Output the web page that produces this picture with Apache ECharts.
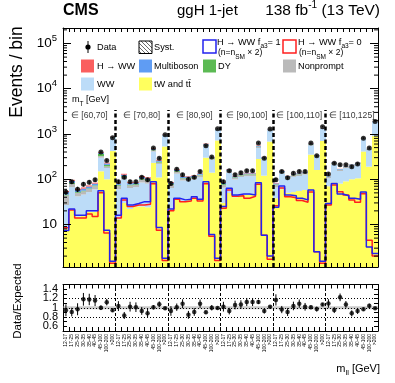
<!DOCTYPE html>
<html>
<head>
<meta charset="utf-8">
<script src="https://cdn.jsdelivr.net/npm/echarts@6.0.0/dist/echarts.min.js"></script>
<style>
html, body { margin: 0; padding: 0; background: #fff; }
#chart { width: 395px; height: 383px; }
</style>
</head>
<body>
<div id="chart"></div>
<script>
// outer mT slices and inner mll bins
const mtBins = ['[60,70]', '[70,80]', '[80,90]', '[90,100]', '[100,110]', '[110,125]']
const mllBins = ['12-17', '17-25', '25-30', '30-35', '35-40', '40-45', '45-100', '100-200', '>200']
const categories = mtBins.flatMap(() => mllBins)

// stacked backgrounds, bottom to top (events / bin)
const topTW = [
    8, 21, 15, 16, 19, 19, 150, 100, 420,
    13, 30, 22, 25, 25, 24, 230, 110, 530,
    22, 38, 33, 35, 38, 36, 300, 140, 720,
    30, 50, 40, 45, 45, 45, 280, 120, 680,
    38, 60, 50, 52, 55, 58, 350, 160, 700,
    70, 85, 80, 90, 100, 105, 410, 190, 900
]
const ww = [
    19, 46, 27, 30, 33, 41, 150, 77, 390,
    47, 70, 42, 42, 60, 56, 180, 108, 380,
    42, 95, 61, 61, 61, 74, 240, 130, 530,
    35, 91, 59, 67, 72, 72, 210, 155, 530,
    28, 75, 52, 61, 63, 69, 212, 155, 600,
    36, 127, 72, 87, 97, 110, 375, 257, 960
]
const nonprompt = [
    17, 12, 8, 8, 9, 10, 25, 15, 20,
    12, 12, 9, 8, 13, 12, 25, 15, 20,
    12, 14, 10, 10, 10, 12, 25, 15, 20,
    10, 12, 9, 9, 10, 10, 25, 15, 20,
    9, 10, 9, 9, 10, 10, 25, 10, 20,
    8, 15, 10, 10, 11, 11, 30, 15, 30
]
const dy = [
    2, 4, 2, 2, 2, 3, 40, 15, 15,
    3, 5, 3, 3, 5, 4, 15, 10, 10,
    3, 5, 3, 3, 3, 4, 12, 8, 10,
    3, 4, 3, 3, 3, 3, 12, 6, 8,
    2, 2, 2, 2, 2, 2, 10, 4, 8,
    1, 3, 2, 2, 2, 2, 5, 2, 8
]
const multiboson = [
    6, 9, 6, 6, 6, 7, 22, 16, 20,
    6, 9, 6, 6, 9, 8, 20, 15, 18,
    5, 9, 6, 6, 6, 7, 20, 11, 20,
    5, 7, 5, 5, 5, 5, 20, 10, 18,
    4, 5, 4.5, 4.5, 4.5, 4.5, 17, 8, 18,
    3, 5, 4.5, 4, 4.5, 4.5, 10, 5, 16
]
const hww = [
    3, 5, 4, 4, 4, 4, 13, 9, 10,
    4, 6, 4, 3, 6, 6, 15, 12, 12,
    3, 4, 3, 3, 3, 3, 13, 6, 10,
    3, 3, 2, 2, 3, 3, 13, 6, 9,
    2, 2, 1.5, 1.5, 1.5, 1.5, 10, 3, 9,
    1, 2, 1.5, 1, 1.5, 1.5, 5, 1, 6
]
// observed data and its uncertainty
const observed = [
    52, 88, 60, 78, 86, 97, 400, 260, 830,
    88, 110, 88, 88, 110, 97, 490, 290, 960,
    81, 167, 126, 100, 110, 148, 550, 310, 1300,
    88, 155, 125, 140, 155, 155, 630, 290, 1290,
    97, 148, 108, 135, 148, 148, 630, 330, 1450,
    130, 225, 208, 208, 190, 218, 810, 490, 1900
]
const observedErr = [
    7, 9, 8, 9, 9, 10, 20, 16, 29,
    9, 10, 9, 9, 10, 10, 22, 17, 31,
    9, 13, 11, 10, 10, 12, 23, 18, 36,
    9, 12, 11, 12, 12, 12, 25, 17, 36,
    10, 12, 10, 12, 12, 12, 25, 18, 38,
    11, 15, 14, 14, 14, 15, 28, 22, 44
]
// H -> WW signal hypotheses drawn as lines (n = n_SM x 2)
const fa3One = [
    7.4, 22, 16, 16, 20, 20, 56, 7.5, 1.55,
    16, 38, 27, 29, 32, 32, 88, 8.6, 1.8,
    22, 38, 35, 36, 41, 36, 88, 6, 1.8,
    25, 63, 45, 47, 47, 45, 84, 5.8, 2.0,
    24, 71, 45, 43, 38, 35, 58, 2.5, 1.55,
    29, 81, 47, 43, 38, 36, 52, 3.2, 2.3
]
const fa3Zero = [
    8.5, 21, 14, 14, 17, 15, 50, 6.5, 1.4,
    14, 35, 25, 27, 27, 28, 80, 7.5, 1.6,
    20, 36, 32, 33, 38, 33, 80, 5.5, 1.6,
    23, 58, 42, 43, 38, 42, 78, 5.8, 1.7,
    26, 64, 41, 39, 34, 31, 52, 2.5, 1.4,
    27, 75, 53, 45, 35, 31, 48, 4.5, 2.0
]

const FONT = '"Liberation Sans", Arial, Helvetica, sans-serif'
const yMin = 1.15
const yMax = 2.2e5
const nBins = categories.length
const perBlock = mllBins.length

// background order: first entry sits at the bottom of the stack
const backgrounds = [
    { name: 'tW and tt̄', values: topTW, color: '#ffff5e' },
    { name: 'WW', values: ww, color: '#bcdcf8' },
    { name: 'Nonprompt', values: nonprompt, color: '#bababa' },
    { name: 'DY', values: dy, color: '#5cba54' },
    { name: 'Multiboson', values: multiboson, color: '#5f9cf3' },
    { name: 'H → WW', values: hww, color: '#fa5f5f' }
]
// cumulative stack tops per component
const cumulative = []
backgrounds.forEach((b, i) => {
    cumulative.push(b.values.map((v, k) => v + (i > 0 ? cumulative[i - 1][k] : 0)))
})
const expected = cumulative[cumulative.length - 1]

const chart = echarts.init(document.getElementById('chart'))

const stepData = (vals) => {
    const pts = []
    vals.forEach((v, k) => { pts.push([k, v], [k + 1, v]) })
    return pts
}

const errorBar = (width) => (params, api) => {
    const p1 = api.coord([api.value(0), api.value(1)])
    const p2 = api.coord([api.value(0), api.value(2)])
    return {
        type: 'line',
        shape: { x1: p1[0], y1: p1[1], x2: p2[0], y2: p2[1] },
        style: { stroke: '#000', lineWidth: width }
    }
}

// minor ticks of the log axis at 2..9 x 10^n
const minorTicks = []
for (let e = 0; e <= 5; e++) {
    for (let m = 2; m <= 9; m++) {
        const v = m * Math.pow(10, e)
        if (v > yMin && v < yMax) minorTicks.push([0, v])
    }
}

const separators = []
for (let i = 1; i < mtBins.length; i++) separators.push(i * perBlock)

const series = []
// stacked histogram: one rect per component per bin, edges snapped to whole pixels
series.push({
    type: 'custom', xAxisIndex: 2, yAxisIndex: 0, silent: true, z: 2,
    data: categories.map((c, k) => [k, ...cumulative.map((cum) => cum[k])]),
    renderItem: (params, api) => {
        const k = api.value(0)
        const x0 = Math.round(api.coord([k, yMin])[0])
        const x1 = Math.round(api.coord([k + 1, yMin])[0])
        let base = api.coord([k, yMin])[1]
        const children = []
        backgrounds.forEach((b, i) => {
            const top = api.coord([k, api.value(i + 1)])[1]
            children.push({
                type: 'rect',
                shape: { x: x0, y: top, width: x1 - x0, height: base - top },
                style: { fill: b.color }
            })
            base = top
        })
        return { type: 'group', children }
    }
})
// signal hypothesis lines
series.push({
    type: 'line', xAxisIndex: 2, yAxisIndex: 0, data: stepData(fa3Zero),
    symbol: 'none', lineStyle: { color: '#ff1f1f', width: 1.5 }, silent: true, z: 3
})
series.push({
    type: 'line', xAxisIndex: 2, yAxisIndex: 0, data: stepData(fa3One),
    symbol: 'none', lineStyle: { color: '#2323f0', width: 1.5 }, silent: true, z: 3
})
// log minor ticks on both sides
series.push({
    type: 'custom', xAxisIndex: 2, yAxisIndex: 0, data: minorTicks, silent: true, z: 6,
    renderItem: (params, api) => {
        const pl = api.coord([0, api.value(1)])
        const pr = api.coord([nBins, api.value(1)])
        return {
            type: 'group',
            children: [
                { type: 'line', shape: { x1: pl[0], y1: pl[1], x2: pl[0] + 4, y2: pl[1] }, style: { stroke: '#000', lineWidth: 1 } },
                { type: 'line', shape: { x1: pr[0] - 4, y1: pr[1], x2: pr[0], y2: pr[1] }, style: { stroke: '#000', lineWidth: 1 } }
            ]
        }
    }
})
// mT slice separators and slice labels
series.push({
    type: 'scatter', xAxisIndex: 2, yAxisIndex: 0, z: 4, silent: true,
    symbolSize: 1,
    itemStyle: { color: 'rgba(0,0,0,0)' },
    data: mtBins.map((b, i) => [i * perBlock + perBlock / 2, 2570]),
    label: {
        show: true, position: 'inside', color: '#000', fontSize: 8.6, fontFamily: FONT,
        formatter: (p) => '∈ ' + mtBins[p.dataIndex]
    },
    markLine: {
        silent: true,
        symbol: ['none', 'none'],
        label: { show: false },
        lineStyle: { color: '#000', width: 2.5, type: [4, 2.5] },
        data: separators.map((x) => [{ coord: [x, yMin] }, { coord: [x, 3400] }])
    }
})
// data points
series.push({
    type: 'custom', xAxisIndex: 2, yAxisIndex: 0, z: 5, silent: true,
    data: observed.map((v, k) => [k + 0.5, v - observedErr[k], v + observedErr[k]]),
    renderItem: errorBar(1)
})
series.push({
    type: 'scatter', xAxisIndex: 2, yAxisIndex: 0, z: 5, silent: true,
    symbolSize: 5, itemStyle: { color: '#000' },
    data: observed.map((v, k) => [k + 0.5, v])
})
// ratio panel
series.push({
    type: 'custom', xAxisIndex: 5, yAxisIndex: 2, z: 5, silent: true,
    data: observed.map((v, k) => [k + 0.5, (v - observedErr[k]) / expected[k], (v + observedErr[k]) / expected[k]]),
    renderItem: errorBar(1)
})
series.push({
    type: 'scatter', xAxisIndex: 5, yAxisIndex: 2, z: 5, silent: true,
    symbolSize: 4.5, itemStyle: { color: '#000' },
    data: observed.map((v, k) => [k + 0.5, v / expected[k]]),
    markArea: {
        silent: true,
        itemStyle: { color: 'rgba(160,160,160,0.55)' },
        data: [[{ yAxis: 0.97 }, { yAxis: 1.03 }]]
    },
    markLine: {
        silent: true,
        symbol: ['none', 'none'],
        label: { show: false },
        data: [
            ...separators.map((x) => ({ xAxis: x, lineStyle: { color: '#000', width: 1, type: [3, 2] } })),
            ...[0.8, 1, 1.2].map((y) => ({ yAxis: y, lineStyle: { color: '#000', width: 1, type: [1, 2] } }))
        ]
    }
})

const axisBlack = { show: true, lineStyle: { color: '#000', width: 1 } }
const catAxis = (grid, position, labels) => ({
    type: 'category',
    gridIndex: grid,
    position,
    data: categories,
    boundaryGap: true,
    axisLine: axisBlack,
    axisTick: { show: true, inside: true, length: 4, interval: 0, lineStyle: { color: '#000' } },
    axisLabel: labels || { show: false },
    splitLine: { show: false },
    z: 10
})

// hatched fill for the Syst. legend box
const hatch = document.createElement('canvas')
hatch.width = 4
hatch.height = 4
const hctx = hatch.getContext('2d')
hctx.strokeStyle = '#444'
hctx.lineWidth = 0.8
hctx.beginPath()
hctx.moveTo(0, 0)
hctx.lineTo(4, 4)
hctx.stroke()

const txt = (x, y, text, style) => ({
    type: 'text', x, y, silent: true,
    style: Object.assign({ text, fill: '#000', fontFamily: FONT, fontSize: 9.2, verticalAlign: 'middle' }, style)
})
const box = (x, y, fill, stroke) => ({
    type: 'rect', silent: true,
    shape: { x, y, width: 13, height: 13 },
    style: stroke ? { fill: fill || 'none', stroke, lineWidth: 1.5 } : { fill }
})
const subRich = { sub: { fontSize: 6.5, lineHeight: 8, verticalAlign: 'bottom' } }

const graphic = [
    txt(63, 11, 'CMS', { fontSize: 16, fontWeight: 'bold' }),
    txt(177, 11, 'ggH 1-jet', { fontSize: 15 }),
    txt(380, 11, '138 fb{sup|-1} (13 TeV)', {
        fontSize: 15.5, align: 'right', lineHeight: 22,
        rich: { sup: { fontSize: 10, lineHeight: 12, verticalAlign: 'top' } }
    }),
    { type: 'text', x: 17, y: 72, rotation: Math.PI / 2, silent: true,
        style: { text: 'Events / bin', fill: '#000', fontFamily: FONT, fontSize: 17.5, align: 'center', verticalAlign: 'middle' } },
    { type: 'text', x: 17.5, y: 301, rotation: Math.PI / 2, silent: true,
        style: { text: 'Data/Expected', fill: '#000', fontFamily: FONT, fontSize: 11.5, align: 'center', verticalAlign: 'middle' } },
    txt(380, 369, 'm{sub|ll} [GeV]', { fontSize: 11, align: 'right', lineHeight: 16, rich: { sub: { fontSize: 7.5, lineHeight: 9, verticalAlign: 'bottom' } } }),
    txt(72, 100, 'm{sub|T} [GeV]', { fontSize: 9, lineHeight: 15, rich: subRich }),
    // legend row 1
    { type: 'line', silent: true, shape: { x1: 88, y1: 41, x2: 88, y2: 53 }, style: { stroke: '#000', lineWidth: 1 } },
    { type: 'circle', silent: true, shape: { cx: 88, cy: 47, r: 2.6 }, style: { fill: '#000' } },
    txt(97, 47, 'Data'),
    { type: 'rect', silent: true, shape: { x: 139, y: 41, width: 13, height: 12.5 },
        style: { fill: { image: hatch, repeat: 'repeat' }, stroke: '#000', lineWidth: 1 } },
    txt(154, 47, 'Syst.'),
    box(203, 40, null, '#2323f0'),
    txt(217, 42.5, 'H → WW f{sub|a3}= 1', { lineHeight: 15, rich: subRich }),
    txt(218, 53, '(n=n{sub|SM} × 2)', { fontSize: 8.5, lineHeight: 15, rich: subRich }),
    box(283, 40, null, '#ff1f1f'),
    txt(298, 42.5, 'H → WW f{sub|a3}= 0', { lineHeight: 15, rich: subRich }),
    txt(299, 53, '(n=n{sub|SM} × 2)', { fontSize: 8.5, lineHeight: 15, rich: subRich }),
    // legend row 2
    box(81, 59.5, '#fa5f5f'),
    txt(97, 66, 'H → WW'),
    box(139, 59.5, '#5f9cf3'),
    txt(154, 66, 'Multiboson'),
    box(203, 59.5, '#5cba54'),
    txt(218, 66, 'DY'),
    box(283, 59.5, '#bababa'),
    txt(298, 66, 'Nonprompt'),
    // legend row 3
    box(81, 77.5, '#bcdcf8'),
    txt(97, 84, 'WW'),
    box(139, 77.5, '#ffff5e'),
    txt(154, 84, 'tW and tt̄')
]

const option = {
    animation: false,
    textStyle: { fontFamily: FONT, color: '#000' },
    grid: [
        { left: 63, top: 28, width: 315, height: 239, outerBoundsMode: 'none', containLabel: false },
        { left: 63, top: 284.5, width: 315, height: 46.5, outerBoundsMode: 'none', containLabel: false }
    ],
    xAxis: [
        catAxis(0, 'bottom'),
        catAxis(0, 'top'),
        { type: 'value', gridIndex: 0, min: 0, max: nBins, show: false },
        catAxis(1, 'bottom', { show: true, interval: 0, rotate: 90, fontSize: 5, margin: 3, color: '#000', fontFamily: FONT }),
        catAxis(1, 'top'),
        { type: 'value', gridIndex: 1, min: 0, max: nBins, show: false }
    ],
    yAxis: [
        {
            type: 'log', gridIndex: 0, logBase: 10, min: yMin, max: yMax, z: 10,
            axisLine: axisBlack,
            axisTick: { show: true, inside: true, length: 8, lineStyle: { color: '#000' } },
            splitLine: { show: false },
            axisLabel: {
                show: true, showMinLabel: false, showMaxLabel: false, margin: 6, color: '#000',
                formatter: (v) => {
                    const lg = Math.log10(v)
                    const e = Math.round(lg)
                    if (Math.abs(lg - e) > 0.01 || e < 1) return ''
                    return e === 1 ? '{b|10}' : '{b|10}{e|' + e + '}'
                },
                rich: {
                    b: { fontSize: 13.5, lineHeight: 20, fontFamily: FONT, color: '#000' },
                    e: { fontSize: 9.5, lineHeight: 11, verticalAlign: 'top', fontFamily: FONT, color: '#000' }
                }
            }
        },
        {
            type: 'log', gridIndex: 0, logBase: 10, min: yMin, max: yMax, position: 'right', z: 10,
            axisLine: axisBlack,
            axisTick: { show: true, inside: true, length: 8, lineStyle: { color: '#000' } },
            splitLine: { show: false },
            axisLabel: { show: false }
        },
        {
            type: 'value', gridIndex: 1, min: 0.5, max: 1.5, interval: 0.1,
            axisLine: axisBlack,
            axisTick: { show: true, inside: true, length: 4, lineStyle: { color: '#000' } },
            splitLine: { show: false },
            axisLabel: {
                show: true, fontSize: 11, margin: 5, color: '#000', fontFamily: FONT,
                showMinLabel: false, showMaxLabel: false,
                formatter: (v) => {
                    const t = Math.round(v * 10)
                    return [6, 8, 10, 12, 14].includes(t) ? String(t / 10) : ''
                }
            }
        },
        {
            type: 'value', gridIndex: 1, min: 0.5, max: 1.5, interval: 0.1, position: 'right',
            axisLine: axisBlack,
            axisTick: { show: true, inside: true, length: 4, lineStyle: { color: '#000' } },
            splitLine: { show: false },
            axisLabel: { show: false }
        }
    ],
    series,
    graphic
}

chart.setOption(option)
</script>
</body>
</html>
